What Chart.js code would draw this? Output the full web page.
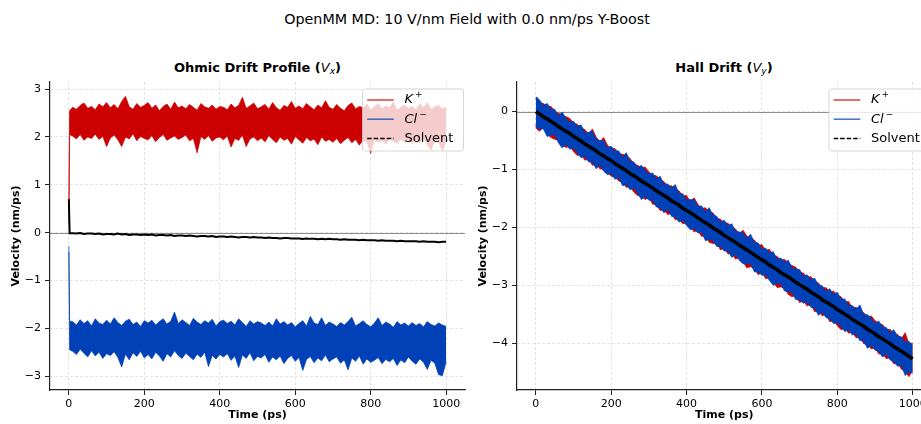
<!DOCTYPE html>
<html><head><meta charset="utf-8">
<script src="https://cdn.jsdelivr.net/npm/chart.js@4"></script>
<style>
html,body{margin:0;padding:0;overflow:hidden;background:#fff;}
#wrap{position:relative;width:921px;height:424px;overflow:hidden;font-family:"DejaVu Sans",sans-serif;color:#000;background:#fff;}
.t{position:absolute;white-space:nowrap;transform:translate(-50%,-50%);}
#title{left:467px;top:19px;font-size:14.3px;}
.sub{top:67px;font-size:13px;font-weight:bold;}
.m{font-style:italic;font-weight:normal;}
.m sub{font-size:70%;vertical-align:-0.25em;line-height:0;}
canvas{position:absolute;}
</style></head>
<body><div id="wrap">
<div id="title" class="t">OpenMM MD: 10 V/nm Field with 0.0 nm/ps Y-Boost</div>
<div class="t sub" style="left:257.5px">Ohmic Drift Profile (<span class="m">V<sub>x</sub></span>)</div>
<div class="t sub" style="left:724px">Hall Drift (<span class="m">V<sub>y</sub></span>)</div>
<canvas id="c1" width="480" height="349" style="left:0;top:75px"></canvas>
<canvas id="c2" width="480" height="349" style="left:470px;top:75px"></canvas>
</div>
<script>
// ---------- data ----------
const time = [0,2,10,20,30,40,50,60,70,80,90,100,110,120,130,140,150,160,170,180,190,200,
210,220,230,240,250,260,270,280,290,300,310,320,330,340,350,360,370,380,390,400,
410,420,430,440,450,460,470,480,490,500,510,520,530,540,550,560,570,580,590,600,
610,620,630,640,650,660,670,680,690,700,710,720,730,740,750,760,770,780,790,800,
810,820,830,840,850,860,870,880,890,900,910,920,930,940,950,960,970,980,990,1000];

// Ohmic (Vx) panel: upper / lower edges of the noisy bands
const kxUpper = [0.45,2.55,
2.62,2.58,2.66,2.71,2.60,2.64,2.57,2.69,2.63,2.72,
2.61,2.68,2.59,2.74,2.85,2.63,2.58,2.70,2.62,2.66,
2.72,2.60,2.67,2.55,2.64,2.69,2.58,2.73,2.61,2.65,
2.59,2.68,2.62,2.56,2.70,2.63,2.60,2.67,2.58,2.64,
2.62,2.57,2.69,2.61,2.66,2.83,2.60,2.65,2.71,2.59,
2.63,2.68,2.58,2.72,2.61,2.56,2.66,2.62,2.74,2.60,
2.65,2.59,2.70,2.63,2.57,2.67,2.61,2.76,2.62,2.58,
2.68,2.60,2.55,2.66,2.71,2.59,2.64,2.61,2.69,2.57,
2.63,2.70,2.58,2.65,2.61,2.73,2.56,2.62,2.67,2.60,
2.64,2.57,2.69,2.61,2.72,2.58,2.63,2.66,2.59,2.62];
const kxLower = [0.20,2.05,
2.02,1.96,2.05,1.93,2.00,1.97,2.06,1.95,2.01,1.80,
1.98,2.04,1.94,1.80,2.00,1.96,2.07,1.92,2.01,1.97,
1.94,2.03,1.90,1.99,2.05,1.93,1.98,2.02,1.95,1.99,
2.04,1.92,1.97,1.67,2.01,1.95,2.03,1.91,1.98,2.00,
1.94,2.02,1.79,1.97,1.93,2.04,1.80,1.96,2.00,1.92,
1.98,1.90,2.03,1.95,1.88,2.00,1.93,1.97,1.85,2.01,
1.94,1.87,1.99,1.92,1.96,1.84,2.00,1.91,1.95,1.89,
1.97,1.86,1.93,1.99,1.88,1.95,1.83,1.94,1.90,1.66,
1.96,1.89,1.93,1.85,1.98,1.91,1.87,1.95,1.90,1.94,
1.86,1.93,1.88,1.97,1.84,1.73,1.92,1.89,1.72,1.91];
const clxUpper = [-0.28,-1.85,
-1.86,-1.93,-1.82,-1.90,-1.84,-1.95,-1.80,-1.89,-1.92,-1.83,
-1.91,-1.78,-1.88,-1.94,-1.85,-1.81,-1.92,-1.87,-1.96,-1.84,
-1.89,-1.83,-1.93,-1.86,-1.80,-1.91,-1.85,-1.66,-1.90,-1.82,
-1.88,-1.94,-1.79,-1.87,-1.92,-1.84,-1.89,-1.81,-1.95,-1.86,
-1.83,-1.90,-1.85,-1.93,-1.80,-1.88,-1.96,-1.84,-1.91,-1.86,
-1.89,-1.94,-1.87,-1.95,-1.80,-1.91,-1.86,-1.93,-1.88,-1.97,
-1.90,-1.84,-1.95,-1.75,-1.89,-1.92,-1.78,-1.94,-1.87,-1.91,
-1.96,-1.88,-1.93,-1.86,-1.77,-1.95,-1.90,-1.84,-1.92,-1.97,
-1.89,-1.78,-1.94,-1.87,-1.91,-1.98,-1.86,-1.93,-1.89,-1.95,
-1.88,-1.94,-1.90,-1.97,-1.86,-1.92,-1.95,-1.89,-1.93,-1.96];
const clxLower = [-0.40,-2.45,
-2.48,-2.55,-2.44,-2.52,-2.60,-2.47,-2.58,-2.50,-2.63,-2.53,
-2.57,-2.49,-2.61,-2.81,-2.54,-2.66,-2.51,-2.59,-2.48,-2.62,
-2.55,-2.64,-2.50,-2.58,-2.69,-2.53,-2.60,-2.47,-2.57,-2.63,
-2.52,-2.59,-2.66,-2.54,-2.61,-2.50,-2.80,-2.57,-2.64,-2.55,
-2.60,-2.53,-2.67,-2.58,-2.82,-2.56,-2.63,-2.51,-2.68,-2.59,
-2.62,-2.55,-2.71,-2.60,-2.66,-2.58,-2.74,-2.63,-2.57,-2.69,
-2.61,-2.88,-2.65,-2.59,-2.72,-2.62,-2.68,-2.56,-2.70,-2.64,
-2.60,-2.73,-2.66,-2.87,-2.62,-2.69,-2.58,-2.75,-2.64,-2.71,
-2.67,-2.61,-2.74,-2.65,-2.70,-2.63,-2.78,-2.66,-2.72,-2.60,
-2.69,-2.75,-2.64,-2.71,-2.86,-2.67,-2.73,-2.97,-2.99,-2.70];
const solventX = [0.70,-0.01,
-0.01,-0.02,-0.01,-0.03,-0.02,-0.02,-0.03,-0.02,-0.04,-0.03,
-0.03,-0.04,-0.02,-0.04,-0.03,-0.05,-0.04,-0.04,-0.05,-0.04,
-0.05,-0.04,-0.06,-0.05,-0.05,-0.06,-0.05,-0.07,-0.06,-0.06,
-0.07,-0.06,-0.07,-0.08,-0.07,-0.07,-0.08,-0.07,-0.09,-0.08,
-0.08,-0.09,-0.08,-0.09,-0.10,-0.09,-0.09,-0.10,-0.09,-0.10,
-0.10,-0.11,-0.10,-0.11,-0.11,-0.12,-0.11,-0.11,-0.12,-0.12,
-0.12,-0.13,-0.12,-0.13,-0.13,-0.14,-0.13,-0.14,-0.13,-0.14,
-0.14,-0.15,-0.14,-0.15,-0.15,-0.15,-0.16,-0.15,-0.16,-0.16,
-0.16,-0.17,-0.16,-0.17,-0.17,-0.17,-0.18,-0.17,-0.18,-0.18,
-0.18,-0.18,-0.19,-0.18,-0.19,-0.19,-0.19,-0.20,-0.19,-0.19];

// Hall (Vy) panel
const kyUpper = [0.20,0.22,
0.15,0.14,0.09,0.09,0.01,-0.03,-0.06,-0.09,-0.12,-0.20,
-0.22,-0.28,-0.31,-0.39,-0.30,-0.44,-0.52,-0.45,-0.58,-0.64,
-0.64,-0.72,-0.74,-0.76,-0.81,-0.90,-0.93,-0.97,-0.96,-1.04,
-1.10,-1.11,-1.18,-1.21,-1.29,-1.28,-1.34,-1.37,-1.46,-1.45,
-1.56,-1.49,-1.60,-1.68,-1.66,-1.74,-1.75,-1.84,-1.86,-1.92,
-1.93,-2.00,-2.03,-2.11,-2.05,-2.15,-2.20,-2.22,-2.31,-2.30,
-2.40,-2.38,-2.49,-2.50,-2.57,-2.55,-2.63,-2.66,-2.69,-2.78,
-2.79,-2.87,-2.85,-2.94,-2.96,-3.05,-3.04,-3.12,-3.10,-3.18,
-3.20,-3.29,-3.28,-3.39,-3.38,-3.45,-3.47,-3.55,-3.53,-3.61,
-3.66,-3.68,-3.77,-3.76,-3.84,-3.85,-3.93,-3.82,-4.01,-4.00];
const kyLower = [-0.22,-0.30,
-0.34,-0.27,-0.39,-0.45,-0.48,-0.50,-0.58,-0.62,-0.60,-0.69,
-0.76,-0.74,-0.84,-0.82,-0.93,-0.91,-0.99,-1.00,-1.05,-1.12,
-1.13,-1.20,-1.22,-1.31,-1.30,-1.39,-1.45,-1.46,-1.52,-1.49,
-1.60,-1.61,-1.71,-1.70,-1.78,-1.76,-1.87,-1.86,-1.94,-1.92,
-1.99,-2.08,-2.05,-2.16,-2.14,-2.26,-2.28,-2.27,-2.39,-2.36,
-2.46,-2.45,-2.55,-2.52,-2.60,-2.70,-2.68,-2.71,-2.82,-2.78,
-2.89,-2.87,-2.94,-3.04,-3.03,-3.05,-3.16,-3.20,-3.18,-3.30,
-3.27,-3.36,-3.33,-3.46,-3.44,-3.53,-3.50,-3.63,-3.61,-3.70,
-3.77,-3.74,-3.83,-3.81,-3.91,-3.89,-4.01,-4.02,-4.10,-4.08,
-4.19,-4.18,-4.27,-4.25,-4.36,-4.34,-4.45,-4.48,-4.58,-4.47];
const clyUpper = [0.22,0.25,
0.20,0.10,0.14,0.04,0.04,-0.08,-0.01,-0.12,-0.18,-0.17,
-0.26,-0.23,-0.37,-0.36,-0.34,-0.48,-0.50,-0.50,-0.63,-0.60,
-0.68,-0.68,-0.79,-0.71,-0.86,-0.87,-0.97,-0.93,-1.01,-1.08,
-1.06,-1.16,-1.12,-1.26,-1.25,-1.32,-1.26,-1.42,-1.42,-1.53,
-1.52,-1.52,-1.64,-1.63,-1.73,-1.66,-1.79,-1.81,-1.91,-1.88,
-1.97,-1.94,-2.07,-2.08,-2.09,-2.19,-2.12,-2.26,-2.27,-2.37,
-2.36,-2.44,-2.42,-2.55,-2.53,-2.60,-2.57,-2.70,-2.72,-2.73,
-2.84,-2.82,-2.90,-2.88,-3.00,-3.01,-3.11,-3.06,-3.16,-3.12,
-3.24,-3.24,-3.35,-3.35,-3.42,-3.34,-3.51,-3.51,-3.57,-3.66,
-3.62,-3.72,-3.73,-3.82,-3.77,-3.88,-3.89,-3.98,-3.97,-4.04];
const clyLower = [-0.25,-0.28,
-0.30,-0.30,-0.43,-0.41,-0.40,-0.54,-0.63,-0.56,-0.65,-0.63,
-0.72,-0.80,-0.77,-0.87,-0.87,-0.99,-0.92,-1.03,-1.09,-1.07,
-1.17,-1.14,-1.28,-1.26,-1.35,-1.32,-1.41,-1.52,-1.47,-1.53,
-1.54,-1.65,-1.66,-1.75,-1.69,-1.81,-1.82,-1.91,-1.88,-1.97,
-2.04,-2.02,-2.10,-2.08,-2.23,-2.21,-2.23,-2.33,-2.33,-2.41,
-2.41,-2.52,-2.47,-2.57,-2.63,-2.63,-2.63,-2.77,-2.77,-2.83,
-2.82,-2.92,-3.00,-2.97,-2.98,-3.10,-3.11,-3.13,-3.25,-3.25,
-3.31,-3.29,-3.38,-3.40,-3.52,-3.46,-3.56,-3.58,-3.66,-3.65,
-3.72,-3.80,-3.77,-3.86,-3.84,-3.96,-3.96,-4.09,-4.04,-4.12,
-4.14,-4.24,-4.19,-4.29,-4.32,-4.40,-4.38,-4.56,-4.50,-4.52];
const solventY = [0.00,-0.01,
-0.04,-0.09,-0.13,-0.17,-0.21,-0.26,-0.30,-0.34,-0.38,-0.43,
-0.47,-0.51,-0.56,-0.60,-0.64,-0.68,-0.73,-0.77,-0.81,-0.85,
-0.90,-0.94,-0.98,-1.02,-1.07,-1.11,-1.15,-1.20,-1.24,-1.28,
-1.32,-1.37,-1.41,-1.45,-1.49,-1.54,-1.58,-1.62,-1.67,-1.71,
-1.75,-1.79,-1.84,-1.88,-1.92,-1.96,-2.01,-2.05,-2.09,-2.14,
-2.18,-2.22,-2.26,-2.31,-2.35,-2.39,-2.43,-2.48,-2.52,-2.56,
-2.60,-2.65,-2.69,-2.73,-2.78,-2.82,-2.86,-2.90,-2.95,-2.99,
-3.03,-3.07,-3.12,-3.16,-3.20,-3.25,-3.29,-3.33,-3.37,-3.42,
-3.46,-3.50,-3.54,-3.59,-3.63,-3.67,-3.71,-3.76,-3.80,-3.84,
-3.89,-3.93,-3.97,-4.01,-4.06,-4.10,-4.14,-4.18,-4.23,-4.27];

const xTicks = [0,200,400,600,800,1000];
const yTicksOhmic = [-3,-2,-1,0,1,2,3];
const yTicksHall = [-4,-3,-2,-1,0];
const legendNames = ['K','Cl','Solvent'];
const legendSups = ['+','\u2212',''];

// ---------- styling ----------
const RED = '#cc0000', RED_A = 'rgba(204,0,0,0.75)';
const BLUE = '#0041b8', BLUE_A = 'rgba(0,65,184,0.75)';
const FONT = "'DejaVu Sans', sans-serif";
Chart.defaults.font.family = FONT;

const pts = ys => time.map((t, i) => ({x: t, y: ys[i]}));
const fmt = v => String(v).replace('-', '\u2212');

const zeroLine = {
  id: 'zeroLine',
  beforeDatasetsDraw(chart) {
    const {ctx, chartArea: a, scales: {y}} = chart;
    const py = Math.round(y.getPixelForValue(0)) + 0.5;
    ctx.save();
    ctx.strokeStyle = '#808080'; ctx.lineWidth = 0.9;
    ctx.beginPath(); ctx.moveTo(a.left, py); ctx.lineTo(a.right, py); ctx.stroke();
    ctx.restore();
  }
};

const legendBox = {
  id: 'legendBox',
  afterDatasetsDraw(chart) {
    const {ctx, chartArea: a} = chart;
    const w = 101, h = 62, r = 3;
    const x0 = a.right - 1.5 - w, y0 = a.top + 7;
    ctx.save();
    ctx.beginPath();
    ctx.moveTo(x0 + r, y0);
    ctx.arcTo(x0 + w, y0, x0 + w, y0 + h, r);
    ctx.arcTo(x0 + w, y0 + h, x0, y0 + h, r);
    ctx.arcTo(x0, y0 + h, x0, y0, r);
    ctx.arcTo(x0, y0, x0 + w, y0, r);
    ctx.closePath();
    ctx.fillStyle = 'rgba(255,255,255,0.8)';
    ctx.fill();
    ctx.strokeStyle = 'rgba(204,204,204,0.8)'; ctx.lineWidth = 1;
    ctx.stroke();
    const colors = [RED_A, BLUE_A, '#000'];
    const dashes = [[], [], [4.5, 2]];
    for (let i = 0; i < 3; i++) {
      const yy = y0 + 11 + i * 19.2;
      ctx.setLineDash(dashes[i]);
      ctx.strokeStyle = colors[i]; ctx.lineWidth = 1.5;
      ctx.beginPath(); ctx.moveTo(x0 + 4.7, yy); ctx.lineTo(x0 + 31.3, yy); ctx.stroke();
      ctx.setLineDash([]);
      ctx.fillStyle = '#000';
      ctx.textBaseline = 'middle'; ctx.textAlign = 'left';
      const tx = x0 + 42;
      if (legendSups[i]) {
        ctx.font = 'italic 13px ' + FONT;
        ctx.fillText(legendNames[i], tx, yy);
        const wd = ctx.measureText(legendNames[i]).width;
        ctx.font = '9px ' + FONT;
        ctx.fillText(legendSups[i], tx + wd + 2, yy - 5);
      } else {
        ctx.font = '13px ' + FONT;
        ctx.fillText(legendNames[i], tx, yy);
      }
    }
    ctx.restore();
  }
};

function makeChart(id, ds, yMin, yMax, yTicks, padLeft, padRight) {
  const tickFont = {family: FONT, size: 11};
  const titleFont = {family: FONT, size: 11, weight: 'bold'};
  const grid = {color: '#dcdcdc', lineWidth: 0.8, tickLength: 5, tickColor: '#222', tickWidth: 1, tickBorderDash: []};
  const border = {display: true, color: '#222', width: 1.2, dash: [3, 2]};
  return new Chart(document.getElementById(id), {
    type: 'line',
    data: {datasets: ds},
    options: {
      responsive: false, animation: false, events: [],
      layout: {padding: {left: padLeft, right: padRight, top: 7, bottom: 0}},
      elements: {point: {radius: 0}, line: {tension: 0}},
      plugins: {legend: {display: false}, tooltip: {enabled: false}, title: {display: false}},
      scales: {
        x: {
          type: 'linear', min: -50, max: 1050,
          afterBuildTicks: s => { s.ticks = xTicks.map(v => ({value: v})); },
          afterFit: s => { s.height = 34; s.paddingLeft = 0; s.paddingRight = 0; },
          grid: grid, border: border,
          ticks: {color: '#000', font: tickFont, padding: 3, maxRotation: 0, autoSkip: false, callback: v => fmt(v)},
          title: {display: true, text: 'Time (ps)', color: '#000', font: titleFont, padding: {top: 4, bottom: 2}}
        },
        y: {
          type: 'linear', min: yMin, max: yMax,
          afterBuildTicks: s => { s.ticks = yTicks.map(v => ({value: v})); },
          afterFit: s => { s.width = 44; s.paddingTop = 0; s.paddingBottom = 0; },
          grid: grid, border: border,
          ticks: {color: '#000', font: tickFont, padding: 4, autoSkip: false, callback: v => fmt(v)},
          title: {display: true, text: 'Velocity (nm/ps)', color: '#000', font: titleFont, padding: {top: 4, bottom: 0}}
        }
      }
    },
    plugins: [zeroLine, legendBox]
  });
}

function bandSets(up, lo, color, colorA) {
  return [
    {data: pts(up), borderColor: colorA, backgroundColor: color, borderWidth: 1, fill: '+1'},
    {data: pts(lo), borderColor: colorA, backgroundColor: color, borderWidth: 1, fill: false}
  ];
}

makeChart('c1', [
  {data: pts(solventX), borderColor: '#000', borderWidth: 2, fill: false},
  ...bandSets(clxUpper, clxLower, BLUE, BLUE_A),
  ...bandSets(kxUpper, kxLower, RED, RED_A)
], -3.29, 3.15, yTicksOhmic, 6, 15);

makeChart('c2', [
  {data: pts(solventY), borderColor: '#000', borderWidth: 3.5, fill: false},
  ...bandSets(clyUpper, clyLower, BLUE, BLUE_A),
  ...bandSets(kyUpper, kyLower, RED, RED_A)
], -4.81, 0.51, yTicksHall, 3, 18.5);
</script>
</body></html>
